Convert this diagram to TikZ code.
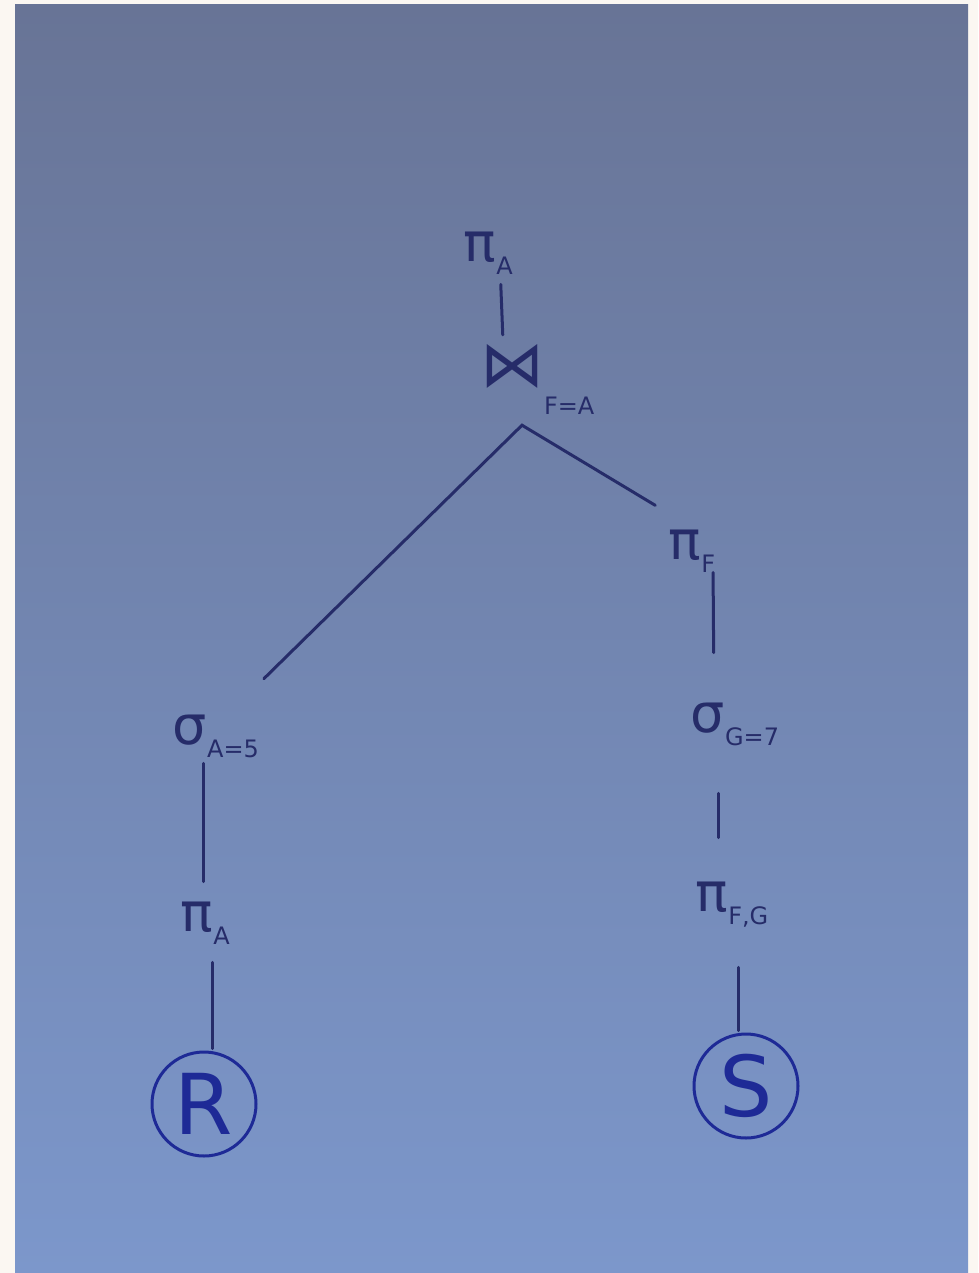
\documentclass[tikz,border=0pt]{standalone}
\usepackage{fontspec}
\setmainfont{DejaVu Sans}
\definecolor{paperframe}{RGB}{251,247,242}
\definecolor{papertop}{RGB}{104,116,150}
\definecolor{papermid}{RGB}{120,137,180}
\definecolor{paperbottom}{RGB}{124,151,203}
\definecolor{ink}{RGB}{38,44,105}
\definecolor{inkblue}{RGB}{30,42,150}
\newcommand{\opsub}[3][-0.25em]{#2\rlap{\smash{\raisebox{#1}{\fontsize{24}{26}\selectfont #3}}}}

\begin{document}
\begin{tikzpicture}
                \tikzset{x=1pt, y=-1pt}
                \tikzstyle{op}=[inner sep=3pt, text=ink, font=\fontsize{54}{58}\selectfont]
                \tikzstyle{rel}=[circle, draw=inkblue, line width=3pt, minimum size=104pt, inner sep=0pt, text=inkblue, font=\fontsize{84}{88}\selectfont]
                \tikzstyle{edge}=[draw=ink, line width=3pt, line cap=round]

                \useasboundingbox (0,0) rectangle (978,1273);
                \fill [paperframe] (0,0) rectangle (978,1273);
                \shade [top color=papertop, middle color=papermid, bottom color=paperbottom] (15,5) rectangle (968,1273);

                % projection and join on top
                \draw (480, 247)    node[op]    (pitop) {\opsub{π}{A}};
                \draw (512, 366)    node[op, font=\fontsize{64}{68}\selectfont]
                                                (join)  {\opsub[-0.45em]{⋈}{F=A}};

                % left branch, relation R
                \draw (190, 730)    node[op]    (sigA)  {\opsub{σ}{A=5}};
                \draw (197, 917)    node[op]    (piA)   {\opsub{π}{A}};
                \draw (204, 1104)   node[rel]   (R)     {R};

                % right branch, relation S
                \draw (685, 545)    node[op]    (piF)   {\opsub{π}{F}};
                \draw (708, 718)    node[op]    (sigG)  {\opsub{σ}{G=7}};
                \draw (712, 897)    node[op]    (piFG)  {\opsub{π}{F,G}};
                \draw (746, 1086)   node[rel]   (S)     {S};

                \draw [edge, shorten <=19pt, shorten >=6pt]  ([xshift=20pt]pitop.south) -- ([xshift=-9pt]join.north);
                \draw [edge, shorten <=47pt, shorten >=12pt] ([xshift=20pt]sigA.north east) -- ([xshift=10pt, yshift=-34pt]join.south) -- ([yshift=15pt]piF.north west);

                \draw [edge, shorten <=9pt, shorten >=47pt]  ([xshift=28pt]piF.south) -- ([xshift=6pt]sigG.north);
                \draw [edge, shorten <=57pt, shorten >=41pt] ([xshift=10pt]sigG.south) -- ([xshift=6pt]piFG.north);
                \draw [edge, shorten <=52pt, shorten >=2pt]  ([xshift=26pt]piFG.south) -- ([xshift=-8pt]S.north);

                \draw [edge, shorten <=15pt, shorten >=17pt] ([xshift=13pt]sigA.south) -- ([xshift=6pt]piA.north);
                \draw [edge, shorten <=27pt, shorten >=2pt]  ([xshift=15pt]piA.south) -- ([xshift=8pt]R.north);
            \end{tikzpicture}
\end{document}
